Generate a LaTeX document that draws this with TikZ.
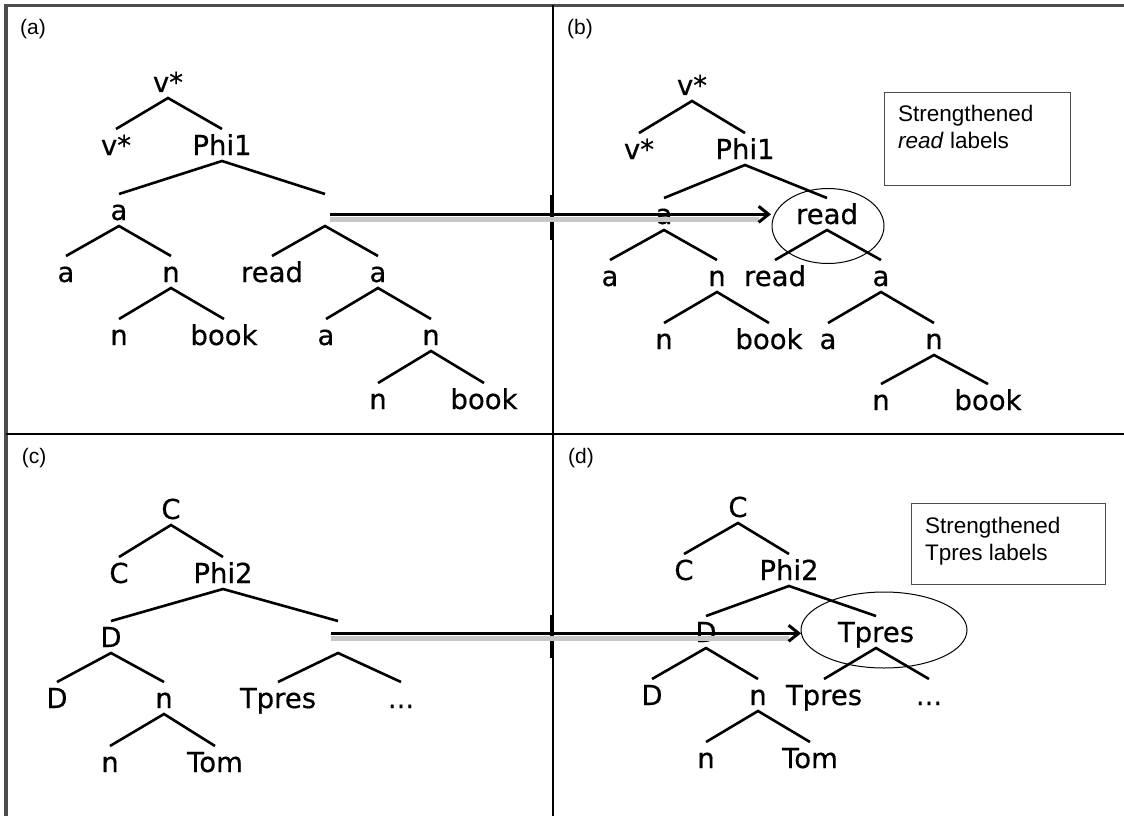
\documentclass[tikz,border=0pt]{standalone}
\usepackage{fontspec}
\setmainfont{Liberation Sans}
\newfontfamily\treefont[FakeBold=0.5]{DejaVu Sans}
\usetikzlibrary{shapes.geometric,arrows.meta}
\newcommand\forkdraw[3]{\draw[branch] ([yshift=6pt]#2.north) -- (#1.south) -- ([yshift=6pt]#3.north);}
\begin{document}
\begin{tikzpicture}[x=1pt,y=-1pt,
  tn/.style={inner sep=0pt,outer sep=0pt,text height=20pt,text depth=6pt,font=\treefont\fontsize{27.5}{30}\selectfont},
  branch/.style={line width=2.6pt,line join=miter,line cap=butt},
  frameline/.style={line width=3.5pt,black!70},
  divider/.style={line width=2pt,black},
  plabel/.style={inner sep=0pt,font=\fontsize{21}{24}\selectfont},
  boxtext/.style={inner sep=0pt,anchor=base west,font=\fontsize{22.5}{27}\selectfont},
  notebox/.style={draw=black!70,line width=1pt,inner sep=0pt},
  ring/.style={ellipse,draw,line width=1pt,inner sep=0pt},
  movearrow/.style={line width=3pt,-{Straight Barb[length=10pt,width=16pt]}},
  shadowline/.style={line width=5pt,black!22},
]
\useasboundingbox (0,0) rectangle (1124,816);
\fill[white] (0,0) rectangle (1124,816);

% frame and dividers
\draw[frameline] (6,816) -- (6,5.3) -- (1124,5.3);
\draw[divider] (6,434) -- (1124,434);
\draw[divider] (552.7,5.3) -- (552.7,816);
\draw[line width=3pt] (551.8,195) -- (551.8,240);
\draw[line width=3pt] (551.8,615) -- (551.8,658);

% panel labels
\node[plabel] (la) at (33,29) {(a)};
\node[plabel] (lb) at (580,29) {(b)};
\node[plabel] (lc) at (34,458) {(c)};
\node[plabel] (ld) at (581,458) {(d)};

% ---------- panel (a) ----------
\node[tn] (a0) at (168,85) {v*};
\node[tn] (a1) at (116,148) {v*};
\node[tn] (a2) at (222,148) {Phi1};
\node[tn] (a3) at (119,213) {a};
\node[tn] (a4) at (325,213) {};
\node[tn] (a5) at (66,275) {a};
\node[tn] (a6) at (171,275) {n};
\node[tn] (a7) at (272,275) {read};
\node[tn] (a8) at (378,275) {a};
\node[tn] (a9) at (119,338) {n};
\node[tn] (a10) at (224,338) {book};
\node[tn] (a11) at (326,338) {a};
\node[tn] (a12) at (431,338) {n};
\node[tn] (a13) at (378,402) {n};
\node[tn] (a14) at (484,402) {book};
\forkdraw{a0}{a1}{a2}
\forkdraw{a2}{a3}{a4}
\forkdraw{a3}{a5}{a6}
\forkdraw{a4}{a7}{a8}
\forkdraw{a6}{a9}{a10}
\forkdraw{a8}{a11}{a12}
\forkdraw{a12}{a13}{a14}

% ---------- panel (b) ----------
\node[notebox,minimum width=186pt,minimum height=93pt] (boxb) at (977,138.5) {};
\node[boxtext] (tb1) at (898,121) {Strengthened};
\node[boxtext] (tb2) at (898,148) {\textit{read} labels};
\node[tn] (b0) at (692,88) {v*};
\node[tn] (b1) at (639,152) {v*};
\node[tn] (b2) at (745,152) {Phi1};
\node[tn] (b3) at (664,217) {a};
\node[tn] (b4) at (827,217) {read};
\node[tn] (b5) at (610,279) {a};
\node[tn] (b6) at (717,279) {n};
\node[tn] (b7) at (775,279) {read};
\node[tn] (b8) at (881,279) {a};
\node[tn] (b9) at (664,342) {n};
\node[tn] (b10) at (769,342) {book};
\node[tn] (b11) at (828,342) {a};
\node[tn] (b12) at (934,342) {n};
\node[tn] (b13) at (881,403) {n};
\node[tn] (b14) at (988,403) {book};
\forkdraw{b0}{b1}{b2}
\forkdraw{b2}{b3}{b4}
\forkdraw{b3}{b5}{b6}
\forkdraw{b4}{b7}{b8}
\forkdraw{b6}{b9}{b10}
\forkdraw{b8}{b11}{b12}
\forkdraw{b12}{b13}{b14}
\node[ring,minimum width=112pt,minimum height=75pt] (ellb) at (828,226) {};

% ---------- panel (c) ----------
\node[tn] (c0) at (171,512) {C};
\node[tn] (c1) at (119,576) {C};
\node[tn] (c2) at (223,576) {Phi2};
\node[tn] (c3) at (111,640) {D};
\node[tn] (c4) at (338,640) {};
\node[tn] (c5) at (57,701) {D};
\node[tn] (c6) at (164,701) {n};
\node[tn] (c7) at (278,701) {Tpres};
\node[tn] (c8) at (401,701) {...};
\node[tn] (c9) at (110,765) {n};
\node[tn] (c10) at (215,765) {Tom};
\forkdraw{c0}{c1}{c2}
\forkdraw{c2}{c3}{c4}
\forkdraw{c3}{c5}{c6}
\forkdraw{c4}{c7}{c8}
\forkdraw{c6}{c9}{c10}

% ---------- panel (d) ----------
\node[notebox,minimum width=194pt,minimum height=81pt] (boxd) at (1008,543.5) {};
\node[boxtext] (td1) at (925,533) {Strengthened};
\node[boxtext] (td2) at (925,560) {Tpres labels};
\node[tn] (d0) at (738,510) {C};
\node[tn] (d1) at (684,573) {C};
\node[tn] (d2) at (789,573) {Phi2};
\node[tn] (d3) at (706,635) {D};
\node[tn] (d4) at (876,635) {Tpres};
\node[tn] (d5) at (652,698) {D};
\node[tn] (d6) at (758,698) {n};
\node[tn] (d7) at (824,698) {Tpres};
\node[tn] (d8) at (929,698) {...};
\node[tn] (d9) at (706,761) {n};
\node[tn] (d10) at (810,761) {Tom};
\forkdraw{d0}{d1}{d2}
\forkdraw{d2}{d3}{d4}
\forkdraw{d3}{d5}{d6}
\forkdraw{d4}{d7}{d8}
\forkdraw{d6}{d9}{d10}
\node[ring,minimum width=166pt,minimum height=76pt] (elld) at (884,630) {};

% ---------- movement arrows ----------
\coordinate (m1s) at (330,214.3);
\coordinate (m1e) at (771,214.3);
\coordinate (m2s) at (331,633.3);
\coordinate (m2e) at (801,633.3);
\draw[shadowline] ([yshift=-5pt]m1s) -- ([yshift=-5pt,xshift=-12pt]m1e);
\draw[shadowline] ([yshift=-5pt]m2s) -- ([yshift=-5pt,xshift=-12pt]m2e);
\draw[movearrow] (m1s) -- (m1e);
\draw[movearrow] (m2s) -- (m2e);
\end{tikzpicture}
\end{document}
